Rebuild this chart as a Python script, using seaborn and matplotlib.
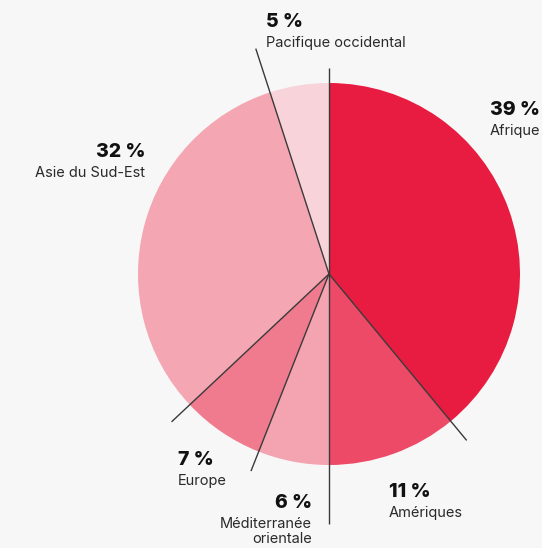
import numpy as np
import seaborn as sns
import matplotlib.pyplot as plt

# regions, clockwise from 12 o'clock
regions = ['Afrique', 'Amériques', 'Méditerranée\norientale', 'Europe',
           'Asie du Sud-Est', 'Pacifique occidental']
shares = [39, 11, 6, 7, 32, 5]
colors = ['#e81b40', '#ec4a67', '#f4a3b0', '#f07a8e', '#f4a6b2', '#f9d3da']

# label anchor (pixel coords, y up) and alignment per region
label_pos = [(490, 438, 'left'), (389, 56, 'left'), (312, 45, 'right'),
             (178, 88, 'left'), (145, 396, 'right'), (266, 526, 'left')]
# leader line length for each boundary, starting at the top one
line_len = [206, 216, 250, 212, 216, 237]

sns.set_theme(style='white')
plt.rcParams['font.family'] = ['Inter', 'DejaVu Sans']

bg = '#f7f7f7'
fig = plt.figure(figsize=(5.42, 5.48), dpi=100, facecolor=bg)
ax = fig.add_axes([0, 0, 1, 1])
ax.set_facecolor(bg)

cx, cy, r = 329, 274, 191
wedges, _ = ax.pie(shares, colors=colors, startangle=90, counterclock=False,
                   center=(cx, cy), radius=r, frame=True,
                   wedgeprops=dict(linewidth=0))
ax.set_xlim(0, 542)
ax.set_ylim(0, 548)
ax.set_aspect('equal')
ax.axis('off')

# leader lines along each slice boundary
bounds = [90] + [w.theta1 for w in wedges[:-1]]
for ang, ln in zip(bounds, line_len):
    a = np.deg2rad(ang)
    ax.plot([cx, cx + ln * np.cos(a)], [cy, cy + ln * np.sin(a)],
            color='#3a3a3a', lw=1.0, solid_capstyle='butt', zorder=5)

for name, pct, (x, y, ha) in zip(regions, shares, label_pos):
    ax.text(x, y, f'{pct} %', ha=ha, va='center', fontsize=14,
            fontweight='heavy', color='#111111')
    ax.text(x, y - 14, name, ha=ha, va='top', fontsize=10.5,
            color='#2a2a2a', linespacing=1.05)

fig.savefig('out.png', dpi=100, facecolor=bg)
